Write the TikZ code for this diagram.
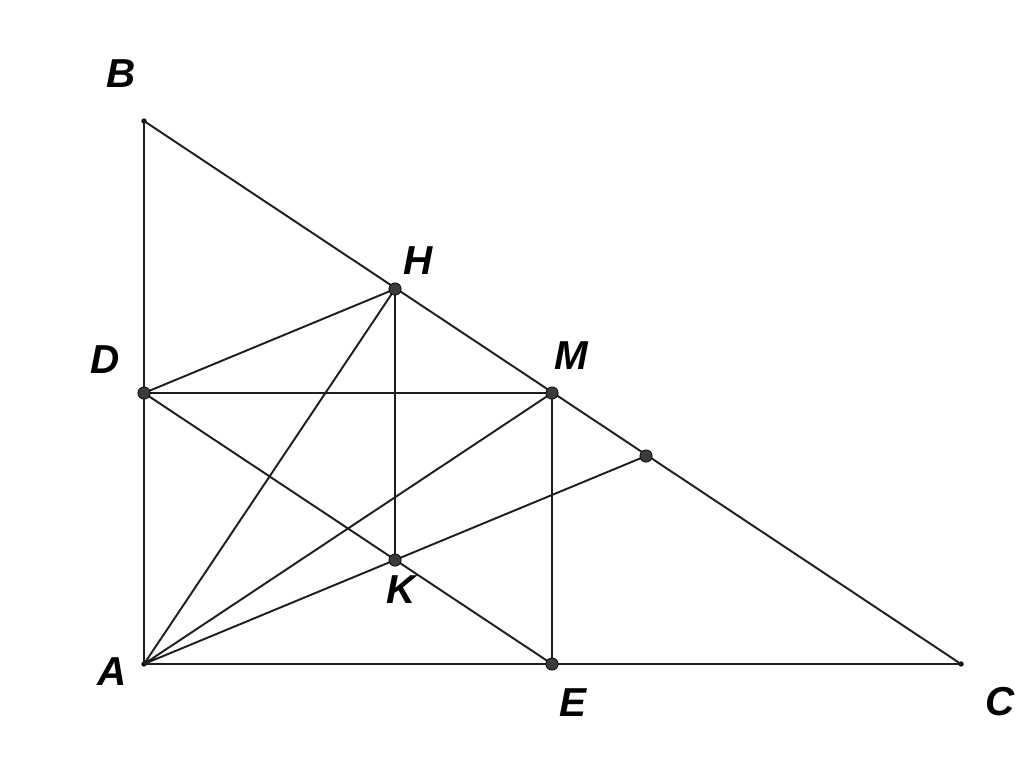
\documentclass[tikz,border=0pt]{standalone}
\usepackage{fontspec}
\setmainfont{Liberation Sans}
\begin{document}
\begin{tikzpicture}[x=0.02cm,y=-0.02cm,
  ln/.style={line width=1.1pt,draw={rgb,255:red,30;green,30;blue,30}},
  pt/.style={circle,fill={rgb,255:red,60;green,60;blue,60},draw=black,line width=0.4pt,inner sep=0pt,minimum size=7pt},
  spt/.style={circle,fill=black,inner sep=0pt,minimum size=3pt},
  lab/.style={font=\fontsize{23}{27}\selectfont\bfseries\itshape}]
\useasboundingbox (0,0) rectangle (1024,762);
\node[spt] (A) at (144,664) {};
\node[spt] (B) at (144,121) {};
\node[spt] (C) at (961,664) {};
\coordinate (Dc) at (144,393);
\coordinate (Mc) at (552,393);
\coordinate (Ec) at (552,664);
\coordinate (Hc) at (395,289);
\coordinate (Kc) at (395,560);
\coordinate (Pc) at (646,456);
\draw[ln] (A.center) -- (B.center) -- (C.center) -- (A.center);
\draw[ln] (Dc) -- (Mc) (Dc) -- (Hc) (Dc) -- (Ec) (Hc) -- (Kc) (Mc) -- (Ec)
  (A.center) -- (Hc) (A.center) -- (Mc) (A.center) -- (Pc);
\node[pt] (D) at (Dc) {};
\node[pt] (M) at (Mc) {};
\node[pt] (E) at (Ec) {};
\node[pt] (H) at (Hc) {};
\node[pt] (K) at (Kc) {};
\node[pt] (P) at (Pc) {};
\node[lab] (lB) at (121,74) {B};
\node[lab] (lH) at (418,261) {H};
\node[lab] (lD) at (105,360) {D};
\node[lab] (lM) at (571,356) {M};
\node[lab] (lK) at (401,590) {K};
\node[lab] (lA) at (112,672) {A};
\node[lab] (lE) at (573,703) {E};
\node[lab] (lC) at (1000,702) {C};
\end{tikzpicture}
\end{document}
